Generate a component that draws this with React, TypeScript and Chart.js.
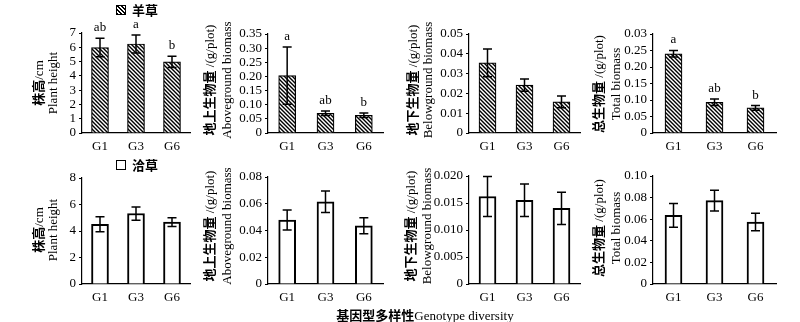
import React, { useEffect, useRef } from "react";
import { Chart, registerables } from "chart.js";

Chart.register(...registerables);

const categories = ["G1", "G3", "G6"];

// 羊草 (top row)
const lcHeight = [5.98, 6.23, 4.98];
const lcHeightErr = [0.65, 0.63, 0.39];
const lcHeightLetters = ["ab", "a", "b"];
const lcAbove = [0.203, 0.0695, 0.0625];
const lcAboveErr = [0.101, 0.008, 0.008];
const lcAboveLetters = ["a", "ab", "b"];
const lcBelow = [0.0354, 0.0242, 0.0157];
const lcBelowErr = [0.007, 0.0031, 0.003];
const lcTotal = [0.24, 0.093, 0.076];
const lcTotalErr = [0.01, 0.01, 0.007];
const lcTotalLetters = ["a", "ab", "b"];

// 洽草 (bottom row)
const kcHeight = [4.51, 5.32, 4.67];
const kcHeightErr = [0.56, 0.5, 0.33];
const kcAbove = [0.0478, 0.0615, 0.0435];
const kcAboveErr = [0.0075, 0.008, 0.006];
const kcBelow = [0.0162, 0.0155, 0.014];
const kcBelowErr = [0.0037, 0.003, 0.003];
const kcTotal = [0.0636, 0.0772, 0.0574];
const kcTotalErr = [0.011, 0.0097, 0.008];

// tick labels
const ticksHeightTop = ["0", "1", "2", "3", "4", "5", "6", "7"];
const ticksAboveTop = ["0", "0.05", "0.10", "0.15", "0.20", "0.25", "0.30", "0.35"];
const ticksBelowTop = ["0", "0.01", "0.02", "0.03", "0.04", "0.05"];
const ticksTotalTop = ["0", "0.05", "0.10", "0.15", "0.20", "0.25", "0.03"];
const ticksHeightBot = ["0", "2", "4", "6", "8"];
const ticksAboveBot = ["0", "0.02", "0.04", "0.06", "0.08"];
const ticksBelowBot = ["0", "0.005", "0.010", "0.015", "0.020"];
const ticksTotalBot = ["0", "0.02", "0.04", "0.06", "0.08", "0.10"];

const SERIF = "'Liberation Serif', 'Times New Roman', serif";
const CJK = "'Noto Sans CJK SC', sans-serif";
const FS = 13;

type Panel = {
  values: number[];
  errors: number[];
  letters?: string[];
  max: number;
  step: number;
  tickLabels: string[];
  hatched: boolean;
  x0: number;
  x1: number;
  yTop: number;
  yBot: number;
  titleCn: string;
  titleUnit: string;
  titleEn: string;
  tx1: number;
  tx2: number;
  ty: number;
};

const panels: Panel[] = [
  { values: lcHeight, errors: lcHeightErr, letters: lcHeightLetters, max: 7, step: 1, tickLabels: ticksHeightTop, hatched: true, x0: 82, x1: 190, yTop: 33, yBot: 133, titleCn: "株高", titleUnit: "/cm", titleEn: "Plant height", tx1: 38, tx2: 53, ty: 83 },
  { values: lcAbove, errors: lcAboveErr, letters: lcAboveLetters, max: 0.35, step: 0.05, tickLabels: ticksAboveTop, hatched: true, x0: 268, x1: 383, yTop: 34, yBot: 133, titleCn: "地上生物量", titleUnit: " /(g/plot)", titleEn: "Aboveground biomass", tx1: 209, tx2: 227, ty: 80 },
  { values: lcBelow, errors: lcBelowErr, max: 0.05, step: 0.01, tickLabels: ticksBelowTop, hatched: true, x0: 469, x1: 580, yTop: 34, yBot: 133, titleCn: "地下生物量", titleUnit: " /(g/plot)", titleEn: "Belowground biomass", tx1: 412, tx2: 428, ty: 80 },
  { values: lcTotal, errors: lcTotalErr, letters: lcTotalLetters, max: 0.3, step: 0.05, tickLabels: ticksTotalTop, hatched: true, x0: 653, x1: 776, yTop: 34, yBot: 133, titleCn: "总生物量", titleUnit: " /(g/plot)", titleEn: "Total biomass", tx1: 598, tx2: 616, ty: 84 },
  { values: kcHeight, errors: kcHeightErr, max: 8, step: 2, tickLabels: ticksHeightBot, hatched: false, x0: 82, x1: 190, yTop: 178, yBot: 284, titleCn: "株高", titleUnit: "/cm", titleEn: "Plant height", tx1: 38, tx2: 53, ty: 230 },
  { values: kcAbove, errors: kcAboveErr, max: 0.08, step: 0.02, tickLabels: ticksAboveBot, hatched: false, x0: 268, x1: 383, yTop: 177, yBot: 284, titleCn: "地上生物量", titleUnit: " /(g/plot)", titleEn: "Aboveground biomass", tx1: 209, tx2: 227, ty: 226 },
  { values: kcBelow, errors: kcBelowErr, max: 0.02, step: 0.005, tickLabels: ticksBelowBot, hatched: false, x0: 469, x1: 580, yTop: 176, yBot: 284, titleCn: "地下生物量", titleUnit: " /(g/plot)", titleEn: "Belowground biomass", tx1: 410, tx2: 427, ty: 226 },
  { values: kcTotal, errors: kcTotalErr, max: 0.1, step: 0.02, tickLabels: ticksTotalBot, hatched: false, x0: 653, x1: 776, yTop: 176, yBot: 284, titleCn: "总生物量", titleUnit: " /(g/plot)", titleEn: "Total biomass", tx1: 598, tx2: 616, ty: 228 },
];

const Y_AXIS_W = 60;
const X_AXIS_H = 24;
const PAD_TOP = 22;
const PAD_RIGHT = 4;

function makeHatch(): CanvasPattern | string {
  const s = 4;
  const c = document.createElement("canvas");
  c.width = s;
  c.height = s;
  const ctx = c.getContext("2d");
  if (!ctx) return "#666";
  ctx.fillStyle = "#fff";
  ctx.fillRect(0, 0, s, s);
  ctx.strokeStyle = "#000";
  ctx.lineWidth = 1.4;
  ctx.beginPath();
  ctx.moveTo(0, 0);
  ctx.lineTo(s, s);
  ctx.moveTo(-1, s - 1);
  ctx.lineTo(1, s + 1);
  ctx.moveTo(s - 1, -1);
  ctx.lineTo(s + 1, 1);
  ctx.stroke();
  const p = ctx.createPattern(c, "repeat");
  return p || "#666";
}

function PanelChart({ p }: { p: Panel }) {
  const ref = useRef<HTMLCanvasElement | null>(null);
  const left = p.x0 - Y_AXIS_W;
  const top = p.yTop - PAD_TOP;
  const width = p.x1 - p.x0 + Y_AXIS_W + PAD_RIGHT;
  const height = p.yBot - p.yTop + PAD_TOP + X_AXIS_H;

  useEffect(() => {
    if (!ref.current) return;
    const errPlugin = {
      id: "errbars",
      afterDatasetsDraw(chart: any) {
        const ctx = chart.ctx;
        const meta = chart.getDatasetMeta(0);
        const ys = chart.scales.y;
        ctx.save();
        ctx.strokeStyle = "#000";
        ctx.fillStyle = "#000";
        ctx.lineWidth = 1.5;
        meta.data.forEach((bar: any, i: number) => {
          const v = p.values[i];
          const e = p.errors[i];
          const x = bar.x;
          const yh = ys.getPixelForValue(v + e);
          const yl = ys.getPixelForValue(v - e);
          ctx.beginPath();
          ctx.moveTo(x, yh);
          ctx.lineTo(x, yl);
          ctx.moveTo(x - 4.5, yh);
          ctx.lineTo(x + 4.5, yh);
          ctx.moveTo(x - 4.5, yl);
          ctx.lineTo(x + 4.5, yl);
          ctx.stroke();
          if (p.letters) {
            ctx.font = `${FS}px ${SERIF}`;
            ctx.textAlign = "center";
            ctx.textBaseline = "bottom";
            ctx.fillText(p.letters[i], x, yh - 4);
          }
        });
        ctx.restore();
      },
    };
    const chart = new Chart(ref.current, {
      type: "bar",
      data: {
        labels: categories,
        datasets: [
          {
            data: p.values,
            backgroundColor: p.hatched ? (makeHatch() as any) : "#fff",
            borderColor: "#000",
            borderWidth: p.hatched ? 1.2 : 2,
            barThickness: 17,
          },
        ],
      },
      options: {
        animation: false,
        responsive: false,
        maintainAspectRatio: false,
        devicePixelRatio: 1,
        layout: { padding: { top: PAD_TOP, right: PAD_RIGHT, left: 0, bottom: 0 } },
        plugins: { legend: { display: false }, tooltip: { enabled: false } },
        scales: {
          x: {
            grid: { display: false, drawTicks: false },
            border: { display: true, color: "#000", width: 1.2 },
            ticks: { color: "#000", font: { family: SERIF, size: FS }, padding: 6 },
            afterFit: (s: any) => {
              s.height = X_AXIS_H;
            },
          },
          y: {
            min: 0,
            max: p.max,
            grid: { display: true, drawOnChartArea: false, drawTicks: true, tickLength: 3, color: "#000", lineWidth: 1 },
            border: { display: true, color: "#000", width: 1.2 },
            ticks: {
              stepSize: p.step,
              autoSkip: false,
              color: "#000",
              font: { family: SERIF, size: FS },
              padding: 3,
              callback: (_v: any, i: number) => p.tickLabels[i],
            },
            afterFit: (s: any) => {
              s.width = Y_AXIS_W;
            },
          },
        },
      },
      plugins: [errPlugin],
    });
    return () => chart.destroy();
  }, []);

  const line = (cx: number, content: React.ReactNode) => (
    <div
      style={{
        position: "absolute",
        left: cx,
        top: p.ty,
        transform: "translate(-50%, -50%) rotate(-90deg)",
        whiteSpace: "nowrap",
        fontSize: FS,
        lineHeight: "14px",
        fontFamily: SERIF,
        color: "#000",
      }}
    >
      {content}
    </div>
  );

  return (
    <>
      <canvas
        ref={ref}
        width={width}
        height={height}
        style={{ position: "absolute", left, top, width, height }}
      />
      {line(
        p.tx1,
        <>
          <span style={{ fontFamily: CJK, fontWeight: 700 }}>{p.titleCn}</span>
          <span>{p.titleUnit}</span>
        </>
      )}
      {line(p.tx2, <span>{p.titleEn}</span>)}
    </>
  );
}

function LegendItem({ x, y, hatched, label }: { x: number; y: number; hatched: boolean; label: string }) {
  const hatchBg =
    "repeating-linear-gradient(45deg, #000 0px, #000 1px, #fff 1px, #fff 2.8px)";
  return (
    <div style={{ position: "absolute", left: x, top: y, display: "flex", alignItems: "center", height: 14 }}>
      <div
        style={{
          width: 8,
          height: 8,
          border: "1.5px solid #000",
          background: hatched ? hatchBg : "#fff",
        }}
      />
      <span style={{ marginLeft: 6, fontFamily: CJK, fontWeight: 700, fontSize: FS, lineHeight: "14px" }}>{label}</span>
    </div>
  );
}

export default function App() {
  return (
    <div style={{ position: "absolute", left: 0, top: 0, width: 800, height: 322, background: "#fff", overflow: "hidden" }}>
      {panels.map((p, i) => (
        <PanelChart key={i} p={p} />
      ))}
      <LegendItem x={116} y={3} hatched={true} label="羊草" />
      <LegendItem x={116} y={158} hatched={false} label="洽草" />
      <div
        style={{
          position: "absolute",
          left: 425,
          top: 314,
          transform: "translate(-50%, -50%)",
          whiteSpace: "nowrap",
          fontSize: FS,
          fontFamily: SERIF,
        }}
      >
        <span style={{ fontFamily: CJK, fontWeight: 700 }}>基因型多样性</span>
        <span>Genotype diversity</span>
      </div>
    </div>
  );
}
